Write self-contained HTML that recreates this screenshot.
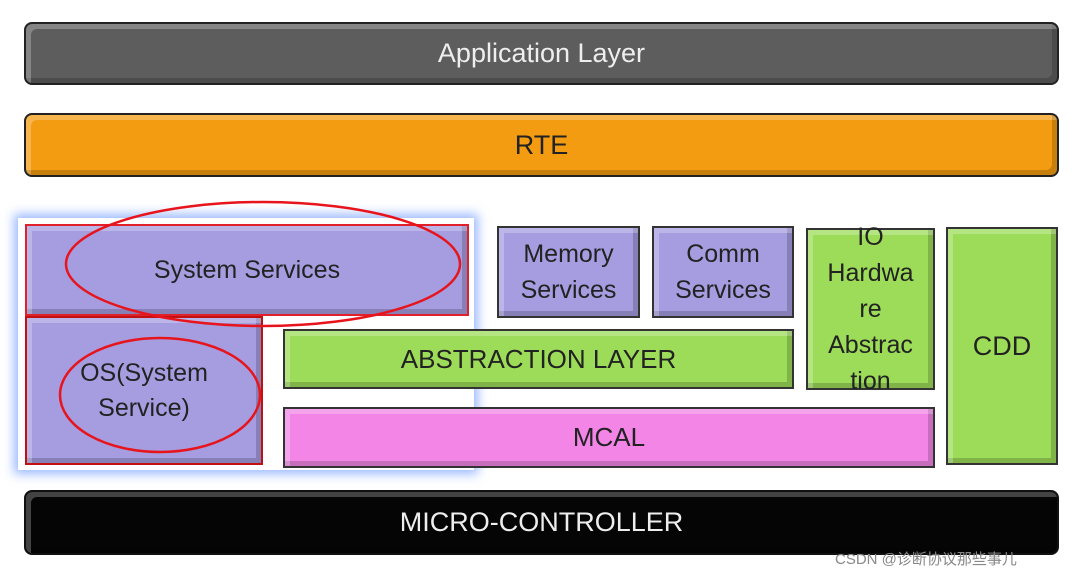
<!DOCTYPE html>
<html><head><meta charset="utf-8"><style>
body{margin:0;width:1082px;height:578px;background:#fff;position:relative;overflow:hidden;font-family:"Liberation Sans","Noto Sans CJK SC",sans-serif}
.b{position:absolute;box-sizing:border-box;display:flex;align-items:center;justify-content:center;text-align:center;color:#222;border:2px solid #333;box-shadow:inset 5px 5px 0 rgba(255,255,255,.25),inset -5px -5px 0 rgba(0,0,0,.18)}
.r{border-radius:8px}
.p{background:#a59de0}
.g{background:#9ddc58}
</style></head><body>
<div class="b r" style="left:24px;top:22px;width:1035px;height:63px;background:#5d5d5d;color:#eee;font-size:27px;border-color:#222">Application Layer</div>
<div class="b r" style="left:24px;top:113px;width:1035px;height:64px;background:#f39c12;font-size:27px;border-color:#222">RTE</div>
<div style="position:absolute;left:18px;top:218px;width:456px;height:252px;box-shadow:0 0 10px 4px rgba(90,140,255,.6);"></div>
<div class="b p" style="left:25px;top:224px;width:444px;height:92px;font-size:25px;border-color:#e0202a">System Services</div>
<div class="b p" style="left:25px;top:316px;width:238px;height:149px;font-size:25px;border-color:#c01010;line-height:35px">OS(System<br>Service)</div>
<div class="b p" style="left:497px;top:226px;width:143px;height:92px;font-size:25px;line-height:36px">Memory<br>Services</div>
<div class="b p" style="left:652px;top:226px;width:142px;height:92px;font-size:25px;line-height:36px">Comm<br>Services</div>
<div class="b g" style="left:806px;top:228px;width:129px;height:162px;font-size:25px;line-height:36px;overflow:visible">IO<br>Hardwa<br>re<br>Abstrac<br>tion</div>
<div class="b g" style="left:946px;top:227px;width:112px;height:238px;font-size:27px">CDD</div>
<div class="b g" style="left:283px;top:329px;width:511px;height:60px;font-size:26px">ABSTRACTION LAYER</div>
<div class="b" style="left:283px;top:407px;width:652px;height:61px;font-size:26px;background:#f285e6">MCAL</div>
<div class="b r" style="left:24px;top:490px;width:1035px;height:65px;background:#050505;color:#eee;font-size:27px;border-color:#111">MICRO-CONTROLLER</div>
<svg style="position:absolute;left:0;top:0" width="1082" height="578">
<ellipse cx="263" cy="264" rx="197" ry="62" fill="none" stroke="#e8141c" stroke-width="2.5"/>
<ellipse cx="160" cy="395" rx="100" ry="57" fill="none" stroke="#e8141c" stroke-width="2.5"/>
</svg>
<div style="position:absolute;left:835px;top:548px;font-size:15px;color:#888">CSDN @诊断协议那些事儿</div>
</body></html>
